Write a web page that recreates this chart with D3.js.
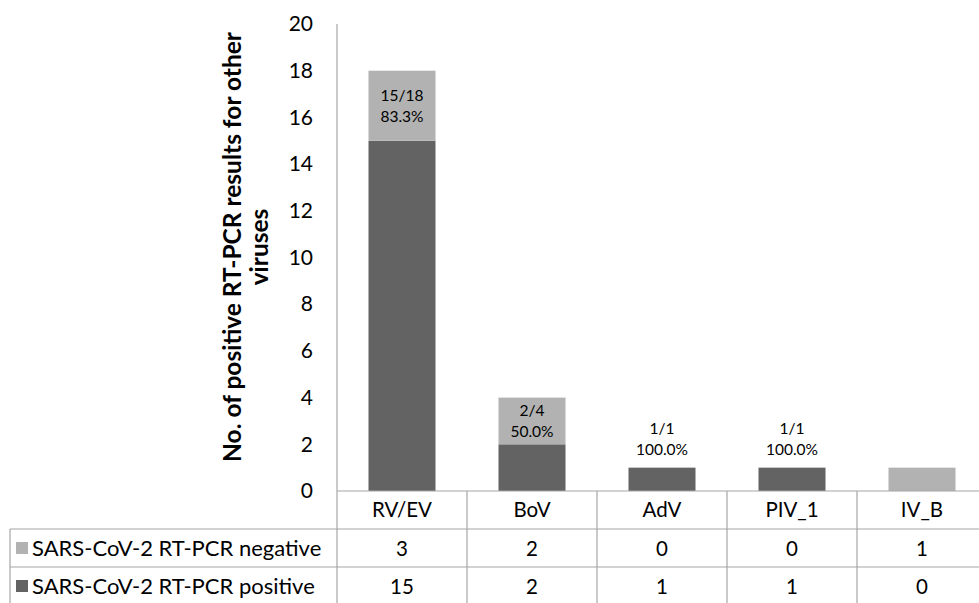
<!DOCTYPE html>
<meta charset="utf-8">
<script src="https://d3js.org/d3.v7.min.js"></script>
<style>
  body { margin: 0; background: #fff; }
  text { font-family: Lato, "Open Sans", sans-serif; fill: #000; }
</style>
<body>
<div id="chart"></div>
<script>
// data
var categories = ["RV/EV", "BoV", "AdV", "PIV_1", "IV_B"];
var negative = [3, 2, 0, 0, 1];
var positive = [15, 2, 1, 1, 0];
var seriesNames = ["SARS-CoV-2 RT-PCR negative", "SARS-CoV-2 RT-PCR positive"];
var yTicks = [0, 2, 4, 6, 8, 10, 12, 14, 16, 18, 20];

var width = 979, height = 603;
var colPos = "#636363", colNeg = "#b2b2b2", lineCol = "#a6a6a6";

var svg = d3.select("#chart").append("svg")
    .attr("width", width)
    .attr("height", height);

var x0 = 337, band = 130;
var x = d3.scaleBand()
  .domain(categories)
  .range([x0, x0 + band * categories.length]);

var y = d3.scaleLinear()
  .domain([0, 20])
  .range([491, 24]);

// y axis labels
var yAxis = svg.append("g")
  .attr("transform", "translate(" + x0 + ",0)")
  .call(d3.axisLeft(y).tickValues(yTicks).tickSize(0).tickPadding(24));
yAxis.select(".domain").remove();
yAxis.selectAll("text")
  .style("font-size", "21px")
  .style("font-family", "Lato, sans-serif")
  .attr("fill", "#000");

// axis title
var title = svg.append("text")
  .attr("transform", "translate(241,247) rotate(-90)")
  .attr("text-anchor", "middle")
  .style("font-size", "24.5px")
  .style("font-weight", "bold");
title.append("tspan").attr("x", 0).attr("dy", 0).text("No. of positive RT-PCR results for other");
title.append("tspan").attr("x", 0).attr("dy", 27).text("viruses");

// bars
var data = categories.map(function(c, i) {
  return { cat: c, pos: positive[i], neg: negative[i] };
});
var bw = 67;

svg.selectAll(".pos")
  .data(data).enter().append("rect")
    .attr("x", function(d) { return x(d.cat) + (x.bandwidth() - bw) / 2; })
    .attr("width", bw)
    .attr("y", function(d) { return y(d.pos); })
    .attr("height", function(d) { return y(0) - y(d.pos); })
    .attr("fill", colPos);

svg.selectAll(".neg")
  .data(data).enter().append("rect")
    .attr("x", function(d) { return x(d.cat) + (x.bandwidth() - bw) / 2; })
    .attr("width", bw)
    .attr("y", function(d) { return y(d.pos + d.neg); })
    .attr("height", function(d) { return y(d.pos) - y(d.pos + d.neg); })
    .attr("fill", colNeg);

// ratio labels
data.filter(function(d) { return d.pos > 0; }).forEach(function(d) {
  var total = d.pos + d.neg;
  var cy = d.neg > 0 ? (y(total) + y(d.pos)) / 2 : y(total) - 29;
  var cx = x(d.cat) + x.bandwidth() / 2;
  var t = svg.append("text")
    .attr("text-anchor", "middle")
    .style("font-size", "15.5px");
  t.append("tspan").attr("x", cx).attr("y", cy - 5).text(d.pos + "/" + total);
  t.append("tspan").attr("x", cx).attr("y", cy + 16).text((d.pos / total * 100).toFixed(1) + "%");
});

// data table
var rowTop = [491, 529, 567, 605];
var tableRight = x0 + band * categories.length;
var grid = svg.append("g").attr("stroke", lineCol).attr("stroke-width", 1.2);

// vertical axis line running into the table
grid.append("line").attr("x1", x0).attr("x2", x0).attr("y1", 24).attr("y2", 605);
categories.forEach(function(c) {
  grid.append("line")
    .attr("x1", x(c) + band).attr("x2", x(c) + band)
    .attr("y1", rowTop[0]).attr("y2", rowTop[3]);
});
grid.append("line").attr("x1", x0).attr("x2", tableRight).attr("y1", rowTop[0]).attr("y2", rowTop[0]);
[1, 2, 3].forEach(function(r) {
  grid.append("line").attr("x1", 10).attr("x2", tableRight).attr("y1", rowTop[r]).attr("y2", rowTop[r]);
});
grid.append("line").attr("x1", 10).attr("x2", 10).attr("y1", rowTop[1]).attr("y2", rowTop[3]);

// category header
svg.selectAll(".cat")
  .data(categories).enter().append("text")
    .attr("x", function(c) { return x(c) + band / 2; })
    .attr("y", (rowTop[0] + rowTop[1]) / 2 + 7)
    .attr("text-anchor", "middle")
    .style("font-size", "20.5px")
    .text(function(c) { return c; });

// series rows
var rows = [
  { name: seriesNames[0], vals: negative, color: colNeg },
  { name: seriesNames[1], vals: positive, color: colPos }
];
rows.forEach(function(r, i) {
  var cy = (rowTop[i + 1] + rowTop[i + 2]) / 2;
  svg.append("rect")
    .attr("x", 16).attr("y", cy - 6)
    .attr("width", 12).attr("height", 12)
    .attr("fill", r.color);
  svg.append("text")
    .attr("x", 32).attr("y", cy + 7.5)
    .style("font-size", "22px")
    .text(r.name);
  svg.selectAll(null)
    .data(r.vals).enter().append("text")
      .attr("x", function(v, j) { return x(categories[j]) + band / 2; })
      .attr("y", cy + 7.5)
      .attr("text-anchor", "middle")
      .style("font-size", "20.5px")
      .text(function(v) { return v; });
});
</script>
</body>
